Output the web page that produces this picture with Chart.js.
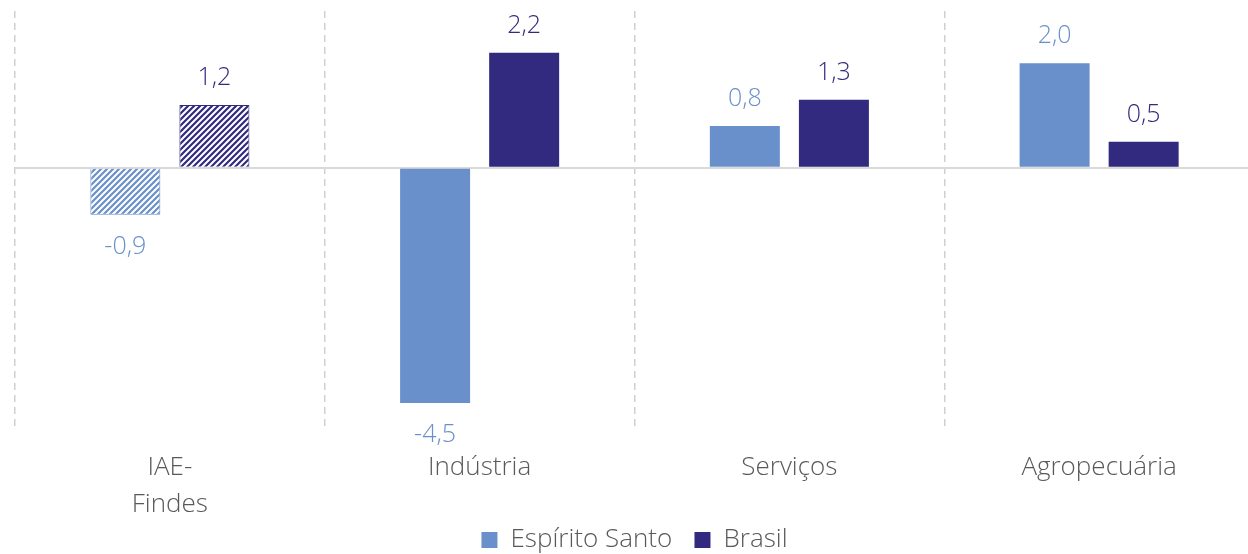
<!DOCTYPE html>
<html>
<head>
<meta charset="utf-8">
<script src="https://cdn.jsdelivr.net/npm/chart.js@4"></script>
<style>
  html, body { margin: 0; padding: 0; background: #fff; overflow: hidden; }
  #wrap { width: 1254px; height: 554px; position: relative; }
</style>
</head>
<body>
<div id="wrap"><canvas id="gdpChart"></canvas></div>
<script>
const categories = [["IAE-", "Findes"], "Indústria", "Serviços", "Agropecuária"];
const espiritoSanto = [-0.9, -4.5, 0.8, 2.0];
const brasil = [1.2, 2.2, 1.3, 0.5];
const seriesNames = ["Espírito Santo", "Brasil"];

const esColor = "#6990ca";
const brColor = "#322a7e";
const textColor = "#595959";
const fontFamily = "'Segoe UI Light', 'Open Sans', 'Noto Sans', sans-serif";

// diagonal stripes used for the first group (IAE-Findes)
function stripes(color) {
  const tile = document.createElement("canvas");
  tile.width = 6;
  tile.height = 6;
  const t = tile.getContext("2d");
  t.fillStyle = "#fff";
  t.fillRect(0, 0, 6, 6);
  t.strokeStyle = color;
  t.lineWidth = 2.2;
  t.beginPath();
  t.moveTo(-1, 7); t.lineTo(7, -1);
  t.moveTo(-4, 4); t.lineTo(4, -4);
  t.moveTo(2, 10); t.lineTo(10, 2);
  t.stroke();
  return t.createPattern(tile, "repeat");
}

function fmt(v) {
  return v.toFixed(1).replace(".", ",");
}

// value labels above / below each bar
const barLabels = {
  id: "barLabels",
  afterDatasetsDraw(chart) {
    const ctx = chart.ctx;
    ctx.save();
    ctx.font = "300 25px " + fontFamily;
    ctx.textAlign = "center";
    ctx.textBaseline = "middle";
    chart.data.datasets.forEach((ds, i) => {
      const meta = chart.getDatasetMeta(i);
      ctx.fillStyle = ds.labelColor;
      meta.data.forEach((bar, j) => {
        const v = ds.data[j];
        const y = v >= 0 ? bar.y - 27 : bar.y + 32;
        ctx.fillText(fmt(v), bar.x, y);
      });
    });
    ctx.restore();
  },
};

const ctx = document.getElementById("gdpChart");

new Chart(ctx, {
  type: "bar",
  data: {
    labels: categories,
    datasets: [
      {
        label: seriesNames[0],
        data: espiritoSanto,
        backgroundColor: espiritoSanto.map((v, i) => (i === 0 ? stripes(esColor) : esColor)),
        borderColor: esColor,
        borderWidth: espiritoSanto.map((v, i) => (i === 0 ? 1 : 0)),
        labelColor: esColor,
        categoryPercentage: 0.575,
        barPercentage: 0.786,
      },
      {
        label: seriesNames[1],
        data: brasil,
        backgroundColor: brasil.map((v, i) => (i === 0 ? stripes(brColor) : brColor)),
        borderColor: brColor,
        borderWidth: brasil.map((v, i) => (i === 0 ? 1 : 0)),
        labelColor: brColor,
        categoryPercentage: 0.575,
        barPercentage: 0.786,
      },
    ],
  },
  options: {
    responsive: true,
    maintainAspectRatio: false,
    animation: false,
    layout: {
      padding: { left: 15, right: 0, top: 11, bottom: -9 },
    },
    plugins: {
      legend: {
        position: "bottom",
        labels: {
          font: { family: fontFamily, size: 26, weight: "300" },
          color: textColor,
          boxWidth: 16,
          boxHeight: 16,
          padding: 2,
          generateLabels(chart) {
            return chart.data.datasets.map((ds, i) => ({
              text: i === 0 ? ds.label + "   " : ds.label,
              fillStyle: i === 0 ? esColor : brColor,
              strokeStyle: i === 0 ? esColor : brColor,
              lineWidth: 0,
              fontColor: textColor,
              datasetIndex: i,
            }));
          },
        },
      },
      tooltip: { enabled: false },
    },
    scales: {
      x: {
        offset: true,
        grid: {
          offset: true,
          color: "#d0d0d0",
          lineWidth: 1.5,
          drawTicks: false,
        },
        border: { display: false, dash: [7, 5] },
        ticks: {
          color: textColor,
          font: { family: fontFamily, size: 26, weight: "300", lineHeight: 1.42 },
          padding: 20,
          maxRotation: 0,
        },
        afterFit(scale) {
          scale.height = 96;
        },
      },
      y: {
        min: -5,
        max: 3,
        display: true,
        border: { display: false },
        grid: {
          drawTicks: false,
          lineWidth: 2,
          color: (c) => (c.tick && c.tick.value === 0 ? "#d9d9d9" : "rgba(0,0,0,0)"),
        },
        ticks: { display: false, stepSize: 1 },
      },
    },
  },
  plugins: [barLabels],
});
</script>
</body>
</html>
